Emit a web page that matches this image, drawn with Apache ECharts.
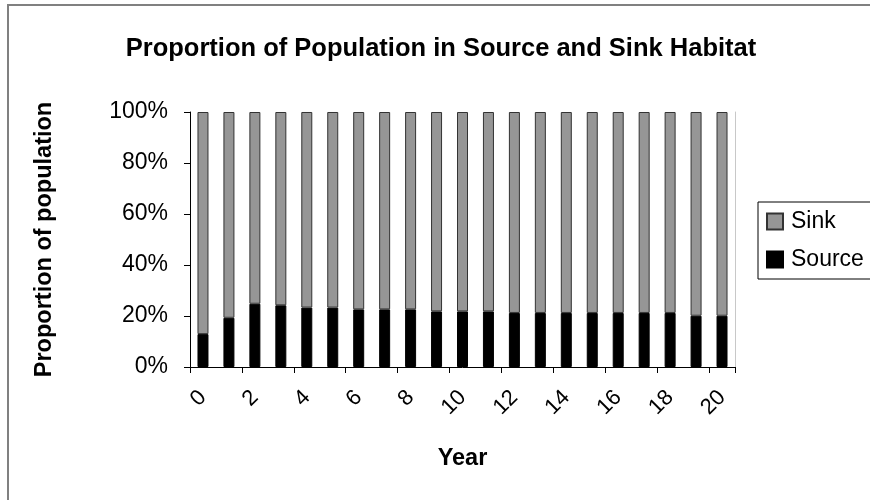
<!DOCTYPE html>
<html>
<head>
<meta charset="utf-8">
<script src="https://cdn.jsdelivr.net/npm/echarts@6/dist/echarts.min.js"></script>
<style>
html, body { margin: 0; padding: 0; background: #fff; }
#frame { position: absolute; left: 7px; top: 4px; width: 900px; height: 520px; border: 2px solid #808080; box-sizing: border-box; }
#chart { position: absolute; left: 0; top: 0; width: 870px; height: 500px; }
</style>
</head>
<body>
<div id="frame"></div>
<div id="chart"></div>
<script>
// years on the x axis
var years = ["0","1","2","3","4","5","6","7","8","9","10","11","12","13","14","15","16","17","18","19","20"];
// proportion (%) in source habitat
var sourcePct = [12.9, 19.3, 24.8, 24.2, 23.3, 23.3, 22.6, 22.6, 22.6, 21.8, 21.8, 21.8, 21.2, 21.2, 21.2, 21.2, 21.2, 21.2, 21.2, 20.1, 20.1];
// proportion (%) in sink habitat
var sinkPct = [87.1, 80.7, 75.2, 75.8, 76.7, 76.7, 77.4, 77.4, 77.4, 78.2, 78.2, 78.2, 78.8, 78.8, 78.8, 78.8, 78.8, 78.8, 78.8, 79.9, 79.9];
var yTicks = [0, 20, 40, 60, 80, 100];

var font = "Liberation Sans";
var chart = echarts.init(document.getElementById("chart"));

var option = {
    backgroundColor: "transparent",
    animation: false,
    title: {
        text: "Proportion of Population in Source and Sink Habitat",
        left: 436,
        top: 31,
        textAlign: "center",
        textStyle: { fontFamily: font, fontSize: 25.5, fontWeight: "bold", color: "#000" }
    },
    legend: {
        left: 758,
        top: 202,
        orient: "vertical",
        data: ["Sink", "Source"],
        icon: "rect",
        itemWidth: 16,
        itemHeight: 16,
        itemGap: 15,
        padding: [8, 14, 8, 8],
        borderColor: "#000",
        borderWidth: 1,
        textStyle: { fontFamily: font, fontSize: 23, color: "#000", padding: [0, 0, 0, 3] }
    },
    grid: { left: 190, right: 135, top: 112, bottom: 133 },
    xAxis: {
        type: "category",
        data: years,
        name: "Year",
        nameLocation: "middle",
        nameGap: 80,
        nameTextStyle: { fontFamily: font, fontSize: 23.5, fontWeight: "bold", color: "#000" },
        axisLine: { lineStyle: { color: "#000", width: 1 } },
        axisTick: { show: true, length: 6, lineStyle: { color: "#000" } },
        axisLabel: {
            interval: 1,
            rotate: 45,
            margin: 27,
            fontFamily: font,
            fontSize: 22,
            color: "#000"
        }
    },
    yAxis: [{
        type: "value",
        min: 0,
        max: 100,
        interval: 20,
        name: "Proportion of population",
        nameLocation: "middle",
        nameGap: 133,
        nameTextStyle: { fontFamily: font, fontSize: 23.5, fontWeight: "bold", color: "#000" },
        axisLine: { show: true, lineStyle: { color: "#000" } },
        axisTick: { show: true, length: 6, lineStyle: { color: "#000" } },
        splitLine: { show: false },
        axisLabel: {
            margin: 22,
            fontFamily: font,
            fontSize: 23,
            color: "#000",
            formatter: function (v) {
                return yTicks.indexOf(v) >= 0 ? v + "%" : "";
            }
        }
    }, {
        type: "value",
        min: 0,
        max: 100,
        position: "right",
        axisLine: { show: true, lineStyle: { color: "#c8c8c8" } },
        axisTick: { show: false },
        axisLabel: { show: false },
        splitLine: { show: false }
    }],
    series: [{
        name: "Source",
        type: "bar",
        stack: "pop",
        data: sourcePct,
        barWidth: 11,
        itemStyle: { color: "#000", borderColor: "#000", borderWidth: 1 }
    }, {
        name: "Sink",
        type: "bar",
        stack: "pop",
        data: sinkPct,
        barWidth: 11,
        itemStyle: { color: "#969696", borderColor: "#333", borderWidth: 1 }
    }]
};
chart.setOption(option);
</script>
</body>
</html>
